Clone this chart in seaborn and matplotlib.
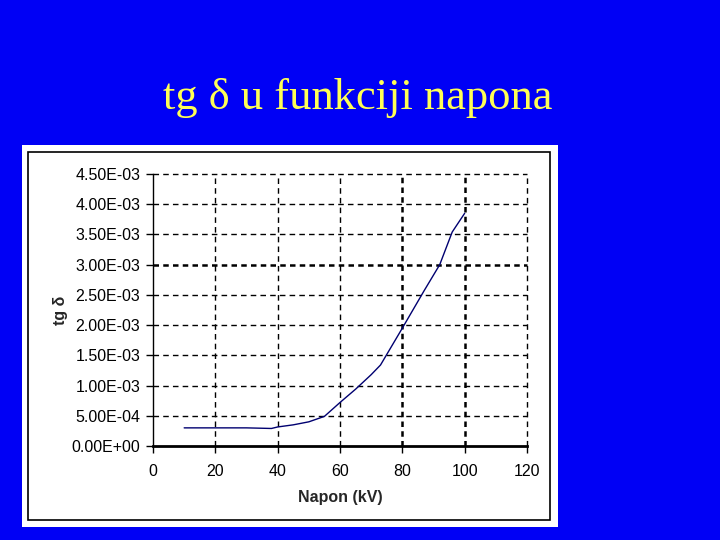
import matplotlib
matplotlib.use("Agg")
import matplotlib.pyplot as plt
import matplotlib.ticker as mticker
import seaborn as sns
from matplotlib.patches import Rectangle

# Data
napon_kv = [10, 20, 30, 38, 40, 45, 50, 55, 60, 65, 70, 73, 80, 87, 92, 96, 100]
tg_delta = [3.0e-4, 3.0e-4, 3.0e-4, 2.9e-4, 3.15e-4, 3.5e-4, 4.0e-4, 4.9e-4,
            7.2e-4, 9.4e-4, 1.18e-3, 1.34e-3, 1.95e-3, 2.57e-3, 3.0e-3, 3.54e-3, 3.85e-3]

x_ticks = [0, 20, 40, 60, 80, 100, 120]
y_ticks = [0, 5e-4, 1e-3, 1.5e-3, 2e-3, 2.5e-3, 3e-3, 3.5e-3, 4e-3, 4.5e-3]

sns.set_style("white")
plt.rcParams["font.family"] = ["Liberation Sans", "DejaVu Sans"]

W, H = 720, 540
fig = plt.figure(figsize=(W / 100, H / 100), dpi=100)
fig.patch.set_facecolor("#0000f5")

# white chart card with black inner frame (pixel coords -> figure fraction)
def px_rect(x0, y0, x1, y1, **kw):
    return Rectangle((x0 / W, 1 - y1 / H), (x1 - x0) / W, (y1 - y0) / H,
                     transform=fig.transFigure, **kw)

fig.patches.append(px_rect(22, 145, 558, 527, facecolor="white", edgecolor="none", zorder=0))
fig.patches.append(px_rect(28, 152, 550, 520, facecolor="none", edgecolor="black", lw=1.2, zorder=1))

fig.text(358 / W, 1 - 98 / H, "tg δ u funkciji napona", ha="center", va="center",
         fontsize=32, color="#ffff55", family=["Liberation Serif", "DejaVu Serif"])

ax = fig.add_axes([153 / W, 1 - 446 / H, (527 - 153) / W, (446 - 174) / H])
ax.set_zorder(5)
ax.set_facecolor("white")

sns.lineplot(x=napon_kv, y=tg_delta, ax=ax, color="#000070", linewidth=1.0, zorder=3)

ax.set_xlim(0, 120)
ax.set_ylim(0, 4.5e-3)
ax.set_xticks(x_ticks)
ax.set_yticks(y_ticks)
ax.yaxis.set_major_formatter(mticker.FuncFormatter(lambda v, p: f"{v:.2E}"))

# dashed grid; a few lines look heavier in the original
for xv in x_ticks[1:]:
    heavy = xv in (80, 100)
    ax.axvline(xv, color="black", lw=1.8 if heavy else 1.0,
               ls=(0, (2.2, 1.7)) if heavy else (0, (4, 3)), zorder=1, clip_on=False)
for yv in y_ticks[1:]:
    heavy = abs(yv - 3e-3) < 1e-9
    ax.axhline(yv, color="black", lw=1.8 if heavy else 1.0,
               ls=(0, (2.2, 1.7)) if heavy else (0, (4, 3)), zorder=1, clip_on=False)

for s in ["top", "right"]:
    ax.spines[s].set_visible(False)
ax.spines["left"].set_color("black")
ax.spines["left"].set_linewidth(1.0)
ax.spines["bottom"].set_color("black")
ax.spines["bottom"].set_linewidth(2.0)
ax.spines["bottom"].set_zorder(4)

ax.tick_params(axis="both", direction="out", length=5, width=1, color="black",
               labelsize=11.5, labelcolor="black", bottom=True, left=True)
ax.tick_params(axis="x", pad=8)
ax.tick_params(axis="y", pad=4)

ax.set_xlabel("Napon (kV)", fontsize=11.5, fontweight="bold", labelpad=8)
ax.set_ylabel("tg δ", fontsize=11.5, fontweight="bold", labelpad=3)

fig.savefig("out.png", dpi=100, facecolor=fig.get_facecolor())
